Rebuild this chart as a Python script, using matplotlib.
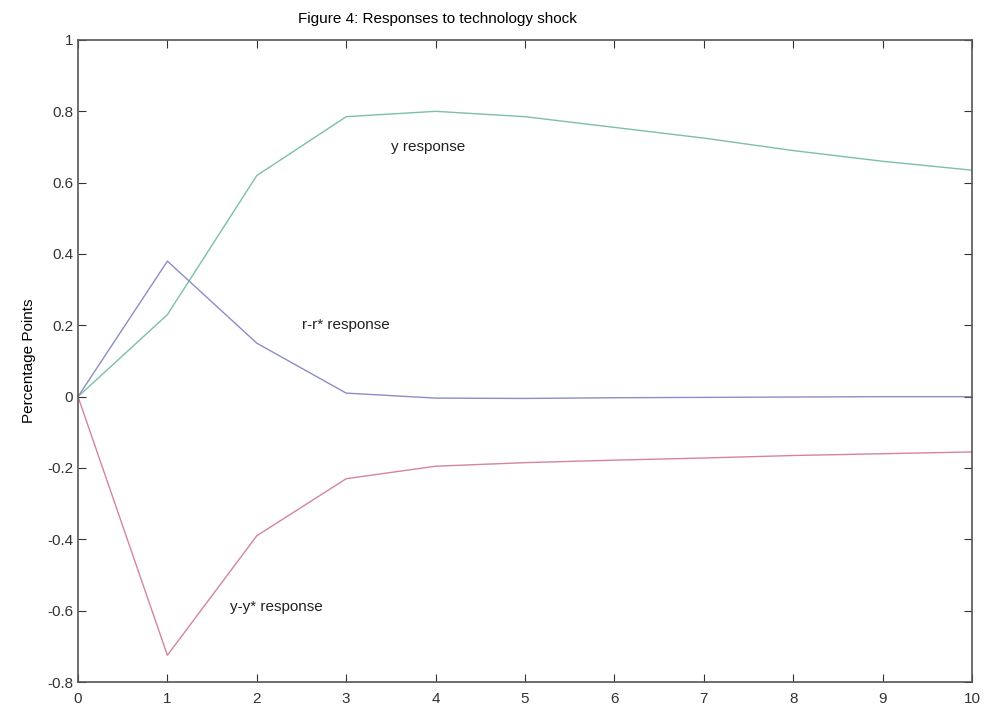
import matplotlib
matplotlib.use('Agg')
import matplotlib.pyplot as plt

# impulse responses
periods  = [0, 1, 2, 3, 4, 5, 6, 7, 8, 9, 10]
y_resp   = [0.0, 0.23, 0.62, 0.785, 0.80, 0.785, 0.755, 0.725, 0.69, 0.66, 0.635]
rr_resp  = [0.0, 0.38, 0.15, 0.01, -0.004, -0.005, -0.003, -0.002, -0.001, 0.0, 0.0]
yy_resp  = [0.0, -0.725, -0.39, -0.23, -0.195, -0.185, -0.178, -0.172, -0.165, -0.16, -0.155]

labels   = ['y response', 'r-r* response', 'y-y* response']
label_xy = [(3.5, 0.69), (2.5, 0.19), (1.7, -0.6)]

plt.rcParams['font.family'] = ['Liberation Sans', 'DejaVu Sans']

fig = plt.figure(figsize = (9.84, 7.06), dpi = 100)
ax  = fig.add_axes([78/984, 1 - 682/706, 894/984, 642/706])

ax.plot(periods, y_resp,  color = '#7cc0a4', lw = 1.0)
ax.plot(periods, rr_resp, color = '#8c8cca', lw = 1.0)
ax.plot(periods, yy_resp, color = '#d6849a', lw = 1.0)

for txt, (tx, ty) in zip(labels, label_xy):
    ax.text(tx, ty, txt, fontsize = 11, color = '#222222')

ax.set_xlim(0, 10)
ax.set_ylim(-0.8, 1)
ax.set_xticks(range(0, 11))
ax.set_yticks([-0.8, -0.6, -0.4, -0.2, 0, 0.2, 0.4, 0.6, 0.8, 1])
ax.set_yticklabels(['-0.8', '-0.6', '-0.4', '-0.2', '0', '0.2', '0.4', '0.6', '0.8', '1'])
ax.tick_params(direction = 'in', length = 6, labelsize = 11, colors = '#333333',
               top = True, right = True)
ax.tick_params(axis = 'x', pad = 7)
for s in ax.spines.values():
    s.set_color('#555555')
    s.set_linewidth(1.2)

ax.set_ylabel('Percentage Points', fontsize = 11, labelpad = 8)
fig.text(437/984, 1 - 19/706, 'Figure 4: Responses to technology shock',
         ha = 'center', va = 'center', fontsize = 11)

plt.savefig('out.png', dpi = 100)
